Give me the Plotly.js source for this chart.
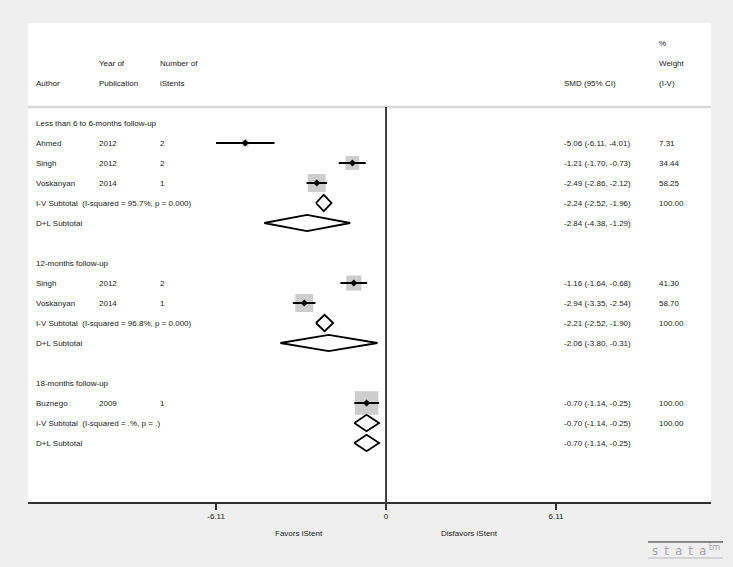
<!DOCTYPE html>
<html>
<head>
<meta charset="utf-8">
<script src="https://cdn.plot.ly/plotly-3.0.1.min.js"></script>
<style>html,body{margin:0;padding:0;background:#efefef;}#chart{width:733px;height:567px;}</style>
</head>
<body>
<div id="chart"></div>
<script>
// ---------- data ----------
const groupNames = ["Less than 6 to 6-months follow-up", "12-months follow-up", "18-months follow-up"];
const studyGroup = [0, 0, 0, 1, 1, 2];
const authors = ["Ahmed", "Singh", "Voskanyan", "Singh", "Voskanyan", "Buznego"];
const years = ["2012", "2012", "2014", "2012", "2014", "2009"];
const nStents = ["2", "2", "1", "2", "1", "1"];
const smd = [-5.06, -1.21, -2.49, -1.16, -2.94, -0.70];
const ciLow = [-6.11, -1.70, -2.86, -1.64, -3.35, -1.14];
const ciHigh = [-4.01, -0.73, -2.12, -0.68, -2.54, -0.25];
const weights = ["7.31", "34.44", "58.25", "41.30", "58.70", "100.00"];

const ivLabel = ["I-V Subtotal\u00a0\u00a0(I-squared = 95.7%, p = 0.000)", "I-V Subtotal\u00a0\u00a0(I-squared = 96.8%, p = 0.000)", "I-V Subtotal\u00a0\u00a0(I-squared = .%, p = .)"];
const ivEst = [-2.24, -2.21, -0.70];
const ivLow = [-2.52, -2.52, -1.14];
const ivHigh = [-1.96, -1.90, -0.25];
const ivWeight = ["100.00", "100.00", "100.00"];
const dlEst = [-2.84, -2.06, -0.70];
const dlLow = [-4.38, -3.80, -1.14];
const dlHigh = [-1.29, -0.31, -0.25];

const tickVals = [-6.11, 0, 6.11];
const tickText = ["-6.11", "0", "6.11"];

// ---------- build rows ----------
const FONT = "Liberation Sans, Arial, Helvetica, sans-serif";
const FS = 8;
const colX = {author: 0.0095, year: 0.1003, num: 0.191, smd: 0.7823, wt: 0.9213};
const annotations = [];
function txt(x, y, text, extra) {
  annotations.push(Object.assign({xref: "paper", yref: "y", x: x, y: y, text: text, showarrow: false,
    xanchor: "left", yanchor: "middle", font: {family: FONT, size: FS, color: "#1a1a1a"}}, extra || {}));
}
function fmtCI(e, l, h) { return e.toFixed(2) + " (" + l.toFixed(2) + ", " + h.toFixed(2) + ")"; }

// header
txt(colX.year, -3, "Year of"); txt(colX.year, -2, "Publication");
txt(colX.num, -3, "Number of"); txt(colX.num, -2, "iStents");
txt(colX.author, -2, "Author");
txt(colX.smd, -2, "SMD (95% CI)");
txt(colX.wt, -4, "%"); txt(colX.wt, -3, "Weight"); txt(colX.wt, -2, "(I-V)");

const boxX = [], boxY = [], boxS = [];
const ciX = [], ciY = [];
const ptX = [], ptY = [];
const diaX = [], diaY = [];
const H = 0.41;
function diamond(l, e, h, r) {
  diaX.push(l, e, h, e, l, null);
  diaY.push(r, r - H, r, r + H, r, null);
}
let row = 0;
for (let g = 0; g < groupNames.length; g++) {
  txt(colX.author, row, groupNames[g]);
  row++;
  for (let i = 0; i < authors.length; i++) {
    if (studyGroup[i] !== g) continue;
    txt(colX.author, row, authors[i]);
    txt(colX.year, row, years[i]);
    txt(colX.num, row, nStents[i]);
    txt(colX.smd, row, fmtCI(smd[i], ciLow[i], ciHigh[i]));
    txt(colX.wt, row, weights[i]);
    boxX.push(smd[i]); boxY.push(row); boxS.push(2.35 * Math.sqrt(parseFloat(weights[i])));
    ciX.push(ciLow[i], ciHigh[i], null); ciY.push(row, row, null);
    ptX.push(smd[i]); ptY.push(row);
    row++;
  }
  txt(colX.author, row, ivLabel[g]);
  txt(colX.smd, row, fmtCI(ivEst[g], ivLow[g], ivHigh[g]));
  txt(colX.wt, row, ivWeight[g]);
  diamond(ivLow[g], ivEst[g], ivHigh[g], row);
  row++;
  txt(colX.author, row, "D+L Subtotal");
  txt(colX.smd, row, fmtCI(dlEst[g], dlLow[g], dlHigh[g]));
  diamond(dlLow[g], dlEst[g], dlHigh[g], row);
  row++;
  row++; // blank
}

// axis direction labels
annotations.push({xref: "paper", yref: "paper", x: 0.3965, y: -0.0668, text: "Favors iStent", showarrow: false,
  xanchor: "center", yanchor: "middle", font: {family: FONT, size: FS, color: "#1a1a1a"}});
annotations.push({xref: "paper", yref: "paper", x: 0.647, y: -0.0668, text: "Disfavors iStent", showarrow: false,
  xanchor: "center", yanchor: "middle", font: {family: FONT, size: FS, color: "#1a1a1a"}});
// logo
annotations.push({xref: "paper", yref: "paper", x: 0.9635, y: -0.101, text: "s\u2002t\u2002a\u2002t\u2002a\u2009<sup>tm</sup>", showarrow: false,
  xanchor: "center", yanchor: "middle", font: {family: "DejaVu Sans", size: 12, color: "#a8a8a8"}});

const traces = [
  {type: "scatter", mode: "markers", x: boxX, y: boxY, hoverinfo: "skip",
   marker: {symbol: "square", size: boxS, color: "#b8b8b8", line: {width: 0}}},
  {type: "scatter", mode: "lines", x: ciX, y: ciY, hoverinfo: "skip", line: {color: "#000", width: 2}},
  {type: "scatter", mode: "markers", x: ptX, y: ptY, hoverinfo: "skip",
   marker: {symbol: "diamond", size: 5.5, color: "#000"}},
  {type: "scatter", mode: "lines", x: diaX, y: diaY, hoverinfo: "skip", line: {color: "#000", width: 1.8}}
];

const layout = {
  width: 733, height: 567,
  margin: {l: 28, r: 22, t: 23, b: 65},
  paper_bgcolor: "#efefef", plot_bgcolor: "#ffffff",
  showlegend: false,
  xaxis: {range: [-12.87, 11.68], tickvals: tickVals, ticktext: tickText, ticks: "outside", ticklen: 6,
    tickcolor: "#333", tickwidth: 1.5, showline: true, linecolor: "#333", linewidth: 1.5, zeroline: false,
    showgrid: false, tickfont: {family: FONT, size: FS, color: "#1a1a1a"}, fixedrange: true},
  yaxis: {range: [18.95, -5], visible: false, showgrid: false, zeroline: false, fixedrange: true},
  shapes: [
    {type: "line", xref: "paper", yref: "y", x0: 0, x1: 1, y0: -0.8, y1: -0.8, line: {color: "#d6d6d6", width: 2.5}},
    {type: "line", xref: "x", yref: "y", x0: 0, x1: 0, y0: -0.8, y1: 18.95, line: {color: "#000", width: 1.5}},
    {type: "line", xref: "paper", yref: "paper", x0: 0.9078, x1: 1.0176, y0: -0.0835, y1: -0.0835, line: {color: "#222", width: 1}},
    {type: "line", xref: "paper", yref: "paper", x0: 0.9078, x1: 1.0176, y0: -0.1169, y1: -0.1169, line: {color: "#bbb", width: 1}}
  ],
  annotations: annotations
};

Plotly.newPlot("chart", traces, layout, {staticPlot: true, displayModeBar: false});
</script>
</body>
</html>
